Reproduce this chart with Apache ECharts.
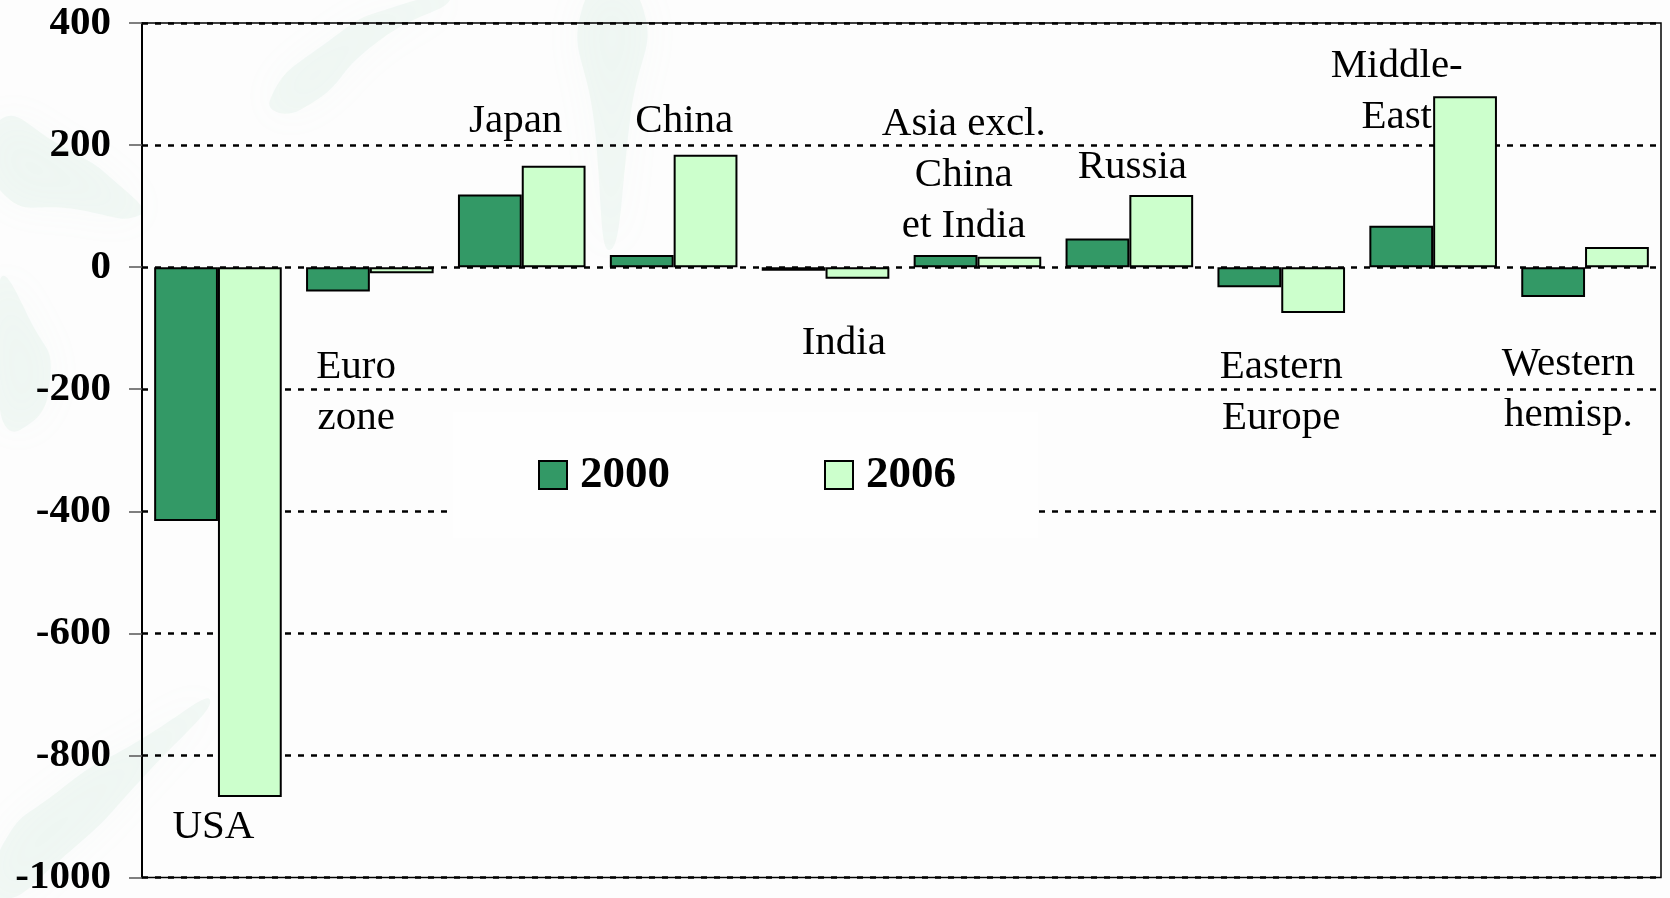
<!DOCTYPE html>
<html>
<head>
<meta charset="utf-8">
<script src="https://cdn.jsdelivr.net/npm/echarts@6/dist/echarts.min.js"></script>
<style>
  html, body { margin: 0; padding: 0; background: #fdfdfd; }
  #chart { width: 1670px; height: 898px; }
</style>
</head>
<body>
<div id="chart"></div>
<script>
// Current account balances by region, 2000 vs 2006
const regions = ['USA', 'Euro zone', 'Japan', 'China', 'India',
  'Asia excl. China et India', 'Russia', 'Eastern Europe', 'Middle-East', 'Western hemisp.'];
const balance2000 = [-416, -40, 119, 20, -6, 20, 47, -33, 68, -49];
const balance2006 = [-868, -10, 166, 184, -19, 17, 118, -75, 280, 33];
const seriesNames = ['2000', '2006'];

// value axis ticks
const yMin = -1000;
const yMax = 400;
const yStep = 200;

// region names as printed next to the bars
const regionLabels = ['USA', 'Euro\nzone', 'Japan', 'China', 'India',
  'Asia excl.\nChina\net India', 'Russia', 'Eastern\nEurope', 'Middle-\nEast', 'Western\nhemisp.'];
// where each name sits, in axis units: [category position, value]
const labelAnchors = [[-0.03, -918], [0.91, -205], [1.96, 239], [3.07, 239], [4.12, -125],
  [4.91, 150], [6.02, 164], [7.0, -205], [7.76, 288], [8.89, -201]];

const SERIF = '"Liberation Serif", "Times New Roman", serif';
const DARK = '#339966';
const LIGHT = '#ccffcc';

const chart = echarts.init(document.getElementById('chart'), null, { renderer: 'canvas' });

// soft leaf-shaped swooshes in the backdrop
const leafStyle = { fill: 'rgba(170, 215, 195, 0.13)', shadowBlur: 40, shadowColor: 'rgba(170, 215, 195, 0.35)' };
const leaves = [
  [[0, 120], [60, 145], [125, 190], [140, 215], [80, 210], [0, 190]],
  [[270, 100], [330, 40], [400, 5], [450, 0], [380, 40], [300, 110]],
  [[585, 0], [640, 0], [630, 120], [610, 250], [595, 130]],
  [[0, 850], [60, 790], [140, 740], [210, 700], [150, 770], [60, 860], [0, 898]],
  [[0, 280], [30, 320], [50, 380], [20, 430], [0, 410]]
].map(pts => ({
  type: 'polygon', z: -10, silent: true,
  shape: { points: pts, smooth: 0.6 },
  style: leafStyle
}));

chart.setOption({
  backgroundColor: '#fdfdfd',
  animation: false,
  graphic: leaves,
  grid: {
    left: 142, right: 9, top: 23, bottom: 18,
    show: true, borderColor: '#000', borderWidth: 1.5, backgroundColor: 'transparent'
  },
  legend: {
    data: seriesNames,
    left: 453, top: 412,
    padding: [40, 82, 40, 85],
    backgroundColor: '#fefefe',
    icon: 'rect',
    itemWidth: 28, itemHeight: 28,
    itemGap: 154,
    itemStyle: { borderColor: '#000', borderWidth: 2 },
    textStyle: {
      fontFamily: SERIF, fontSize: 45, fontWeight: 'bold', color: '#000',
      lineHeight: 46, padding: [0, 0, 0, 8]
    }
  },
  xAxis: [
    {
      type: 'category', data: regions,
      axisLine: { show: false }, axisTick: { show: false }, axisLabel: { show: false },
      splitLine: { show: false }
    },
    {
      type: 'value', min: -0.5, max: regions.length - 0.5, show: false
    }
  ],
  yAxis: {
    type: 'value', min: yMin, max: yMax, interval: yStep,
    axisLine: { show: true, onZero: false, lineStyle: { color: '#000', width: 2 } },
    axisTick: { show: true, length: 13, lineStyle: { color: '#555', width: 1.5 } },
    axisLabel: {
      fontFamily: SERIF, fontSize: 41, fontWeight: 'bold', color: '#000', margin: 31,
      formatter: v => String(v)
    },
    splitLine: { show: true, lineStyle: { color: '#000', width: 2.5, type: [6, 7] } }
  },
  series: [
    {
      name: seriesNames[0], type: 'bar', data: balance2000,
      barGap: '0%', barCategoryGap: '16%',
      itemStyle: { color: DARK, borderColor: '#000', borderWidth: 2 }
    },
    {
      name: seriesNames[1], type: 'bar', data: balance2006,
      barGap: '0%', barCategoryGap: '16%',
      itemStyle: { color: LIGHT, borderColor: '#000', borderWidth: 2 }
    },
    {
      name: 'regions', type: 'scatter', xAxisIndex: 1, silent: true,
      symbolSize: 1, itemStyle: { color: 'rgba(0,0,0,0)' }, z: 5,
      data: labelAnchors.map((a, i) => ({ value: a, name: regionLabels[i] })),
      label: {
        show: true, position: 'inside', formatter: p => p.name,
        fontFamily: SERIF, fontSize: 41, color: '#000', lineHeight: 51,
        textBorderWidth: 0, opacity: 1,
        align: 'center', verticalAlign: 'middle'
      }
    }
  ]
});
</script>
</body>
</html>
